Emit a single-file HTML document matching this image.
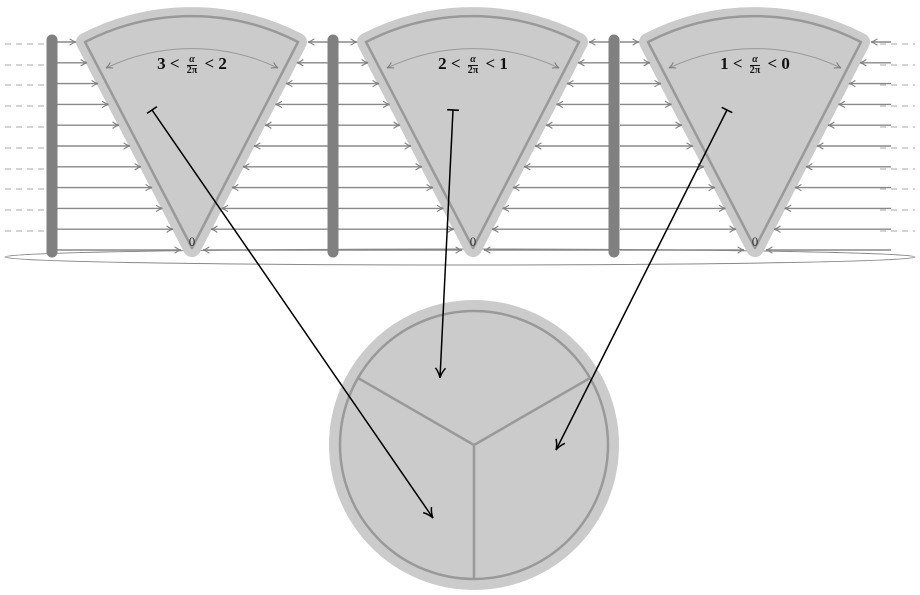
<!DOCTYPE html>
<html><head><meta charset="utf-8"><style>
html,body{margin:0;padding:0;background:#fff;width:920px;height:595px;overflow:hidden;position:relative}
.lb{position:absolute;top:54px;width:140px;text-align:center;font-family:"Liberation Serif",serif;font-weight:bold;font-size:17px;color:#111;white-space:nowrap}
.fr{display:inline-block;vertical-align:middle;font-size:10px;line-height:10px;text-align:center;margin:0 3px}
.fr span{display:block}
.fr .t{border-bottom:1px solid #111;font-style:italic}
</style></head><body>
<svg width="920" height="595" viewBox="0 0 920 595" style="position:absolute;left:0;top:0">
<defs>
<marker id="ga" viewBox="0 0 10 10" refX="9" refY="5" markerWidth="8" markerHeight="8" orient="auto-start-reverse" markerUnits="userSpaceOnUse">
<path d="M1,1 Q5,4 9,5 Q5,6 1,9" fill="none" stroke="#808080" stroke-width="1.4"/></marker>
<marker id="ba" viewBox="0 0 12 12" refX="11" refY="6" markerWidth="12" markerHeight="12" orient="auto" markerUnits="userSpaceOnUse">
<path d="M1,1 Q6,5 11,6 Q6,7 1,11" fill="none" stroke="#000" stroke-width="1.5"/></marker>
<marker id="tb" viewBox="0 0 12 12" refX="6" refY="6" markerWidth="12" markerHeight="12" orient="auto" markerUnits="userSpaceOnUse">
<path d="M6,0 L6,12" stroke="#000" stroke-width="1.6"/></marker>
<g id="lines" stroke="#888" stroke-width="1.4" fill="none">
<line x1="-135" y1="-206" x2="-116" y2="-206" marker-end="url(#ga)"/><line x1="116" y1="-206" x2="136" y2="-206" marker-start="url(#ga)"/>
<line x1="-135" y1="-185.2" x2="-105" y2="-185.2" marker-end="url(#ga)"/><line x1="105" y1="-185.2" x2="136" y2="-185.2" marker-start="url(#ga)"/>
<line x1="-135" y1="-164.4" x2="-94" y2="-164.4" marker-end="url(#ga)"/><line x1="94" y1="-164.4" x2="136" y2="-164.4" marker-start="url(#ga)"/>
<line x1="-135" y1="-143.6" x2="-83.5" y2="-143.6" marker-end="url(#ga)"/><line x1="83.5" y1="-143.6" x2="136" y2="-143.6" marker-start="url(#ga)"/>
<line x1="-135" y1="-122.8" x2="-73" y2="-122.8" marker-end="url(#ga)"/><line x1="73" y1="-122.8" x2="136" y2="-122.8" marker-start="url(#ga)"/>
<line x1="-135" y1="-102" x2="-62" y2="-102" marker-end="url(#ga)"/><line x1="62" y1="-102" x2="136" y2="-102" marker-start="url(#ga)"/>
<line x1="-135" y1="-81.2" x2="-51" y2="-81.2" marker-end="url(#ga)"/><line x1="51" y1="-81.2" x2="136" y2="-81.2" marker-start="url(#ga)"/>
<line x1="-135" y1="-60.4" x2="-40" y2="-60.4" marker-end="url(#ga)"/><line x1="40" y1="-60.4" x2="136" y2="-60.4" marker-start="url(#ga)"/>
<line x1="-135" y1="-39.6" x2="-29.6" y2="-39.6" marker-end="url(#ga)"/><line x1="29.6" y1="-39.6" x2="136" y2="-39.6" marker-start="url(#ga)"/>
<line x1="-135" y1="-18.8" x2="-19" y2="-18.8" marker-end="url(#ga)"/><line x1="19" y1="-18.8" x2="136" y2="-18.8" marker-start="url(#ga)"/>
<line x1="-135" y1="2" x2="-11" y2="2" marker-end="url(#ga)"/><line x1="11" y1="2" x2="136" y2="2" marker-start="url(#ga)"/>
</g>
<g id="wedge">
<path d="M0,0 L-107,-206 A232,232 0 0 1 106,-206 Z" fill="#cbcbcb" stroke="#cbcbcb" stroke-width="18" stroke-linejoin="round"/>
<path d="M0,0 L-107,-206 A232,232 0 0 1 106,-206 Z" fill="#cbcbcb" stroke="#999" stroke-width="2.5" stroke-linejoin="round"/>
<path d="M-86,-180 A200,200 0 0 1 86,-180" fill="none" stroke="#999" stroke-width="1" marker-start="url(#ga)" marker-end="url(#ga)"/>
<text x="0" y="-2" font-family="Liberation Serif,serif" font-size="13" text-anchor="middle" fill="#333">0</text>
</g>
</defs>
<ellipse cx="460" cy="257" rx="455" ry="8" fill="none" stroke="#888" stroke-width="1"/>
<g stroke="#aaa" stroke-width="1" stroke-dasharray="6,5" fill="none">
<path d="M5,44H45M5,65H45M5,85H45M5,106H45M5,127H45M5,148H45M5,169H45M5,189H45M5,210H45M5,231H45"/>
<path d="M880,44H915M880,65H915M880,85H915M880,106H915M880,127H915M880,148H915M880,169H915M880,189H915M880,210H915M880,231H915"/>
</g>
<use href="#wedge" x="192" y="248"/>
<use href="#wedge" x="473" y="248"/>
<use href="#wedge" x="755" y="248"/>
<use href="#lines" x="192" y="248"/>
<use href="#lines" x="473" y="248"/>
<use href="#lines" x="755" y="248"/>
<g stroke="#808080" stroke-width="11" stroke-linecap="round">
<line x1="52" y1="40" x2="52" y2="252"/>
<line x1="333" y1="40" x2="333" y2="252"/>
<line x1="614" y1="40" x2="614" y2="252"/>
</g>
<circle cx="474" cy="445" r="145" fill="#cbcbcb"/>
<circle cx="474" cy="445" r="134" fill="#cbcbcb" stroke="#999" stroke-width="2.5"/>
<path d="M474,445L358,378M474,445L590,378M474,445L474,579" stroke="#999" stroke-width="2.5" fill="none"/>
<g stroke="#000" stroke-width="1.5" fill="none">
<line x1="152" y1="110" x2="433" y2="518" marker-start="url(#tb)" marker-end="url(#ba)"/>
<line x1="453" y1="110" x2="440" y2="378" marker-start="url(#tb)" marker-end="url(#ba)"/>
<line x1="727" y1="110" x2="556" y2="450" marker-start="url(#tb)" marker-end="url(#ba)"/>
</g>
</svg>
<div class="lb" style="left:122px">3 &lt; <span class="fr"><span class="t">α</span><span>2π</span></span> &lt; 2</div>
<div class="lb" style="left:403px">2 &lt; <span class="fr"><span class="t">α</span><span>2π</span></span> &lt; 1</div>
<div class="lb" style="left:685px">1 &lt; <span class="fr"><span class="t">α</span><span>2π</span></span> &lt; 0</div>
</body></html>
